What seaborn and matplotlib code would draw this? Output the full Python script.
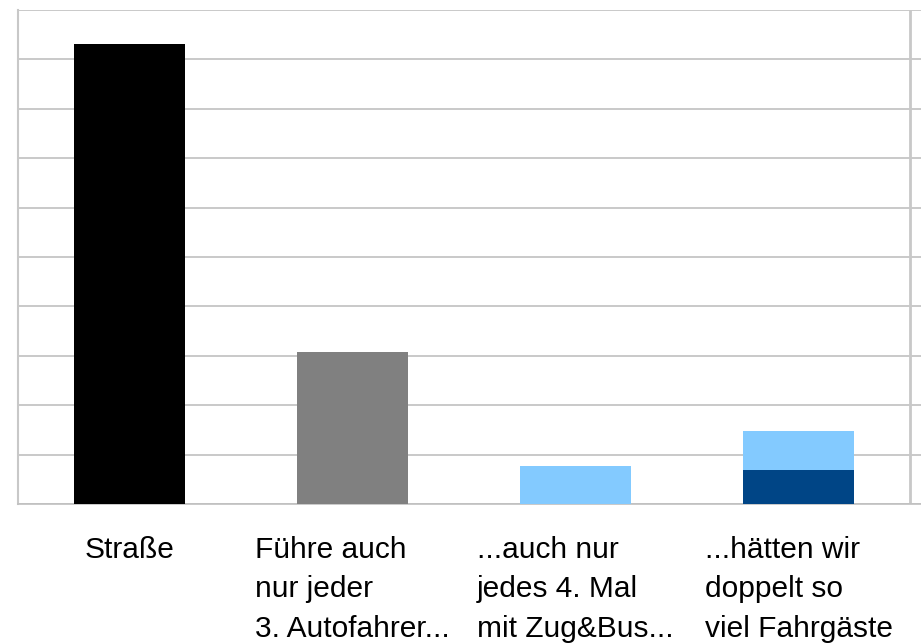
import matplotlib
matplotlib.use("Agg")
import matplotlib.pyplot as plt
import seaborn as sns
import pandas as pd

categories = ["Straße", "Führe auch\nnur jeder\n3. Autofahrer...",
              "...auch nur\njedes 4. Mal\nmit Zug&Bus...",
              "...hätten wir\ndoppelt so\nviel Fahrgäste"]
totals = [9.31, 3.08, 0.77, 1.48]
dark_part = [0.0, 0.0, 0.0, 0.69]
bar_colors = ["#000000", "#808080", "#83caff", "#83caff"]
dark_color = "#004586"

sns.set_theme(style="white")
plt.rcParams['font.family'] = ['Liberation Sans', 'DejaVu Sans']

df = pd.DataFrame({"cat": categories, "total": totals, "dark": dark_part})

fig = plt.figure(figsize=(9.21, 6.43), dpi=100)
ax = fig.add_axes([18/921, (643-504)/643, (921-18)/921, 494/643])

sns.barplot(data=df, x="cat", y="total", hue="cat", palette=bar_colors,
            legend=False, width=0.5, ax=ax, saturation=1, zorder=3, linewidth=0)
sns.barplot(data=df, x="cat", y="dark", color=dark_color, width=0.5, ax=ax,
            saturation=1, zorder=4, linewidth=0)

ax.set_ylim(0, 10)
ax.set_xlim(-0.5, -0.5 + 903/223)
ax.set_yticks(range(0, 11))
ax.set_yticklabels([])
ax.tick_params(axis='y', length=0)
ax.grid(axis='y', color='#c0c0c0', linewidth=1.2, zorder=0)
ax.set_axisbelow(True)
ax.set_xlabel("")
ax.set_ylabel("")

for s in ["top", "right"]:
    ax.spines[s].set_visible(False)
ax.spines["left"].set_color("#c8c8c8")
ax.spines["left"].set_linewidth(1.5)
ax.spines["bottom"].set_color("#c0c0c0")
ax.spines["bottom"].set_linewidth(1.2)
ax.axvline(3.5, color="#c8c8c8", linewidth=2, zorder=1)

ax.set_xticks([-0.5, 0.5, 1.5, 2.5, 3.5], minor=True)
ax.tick_params(axis='x', which='minor', length=15, color='#c0c0c0', width=1.2, direction='out')
ax.tick_params(axis='x', which='major', length=0, pad=23, labelsize=21.5, labelcolor='#000000')
for lab in ax.get_xticklabels():
    lab.set_multialignment('left')
    lab.set_linespacing(1.52)

fig.savefig("out.png", dpi=100)
